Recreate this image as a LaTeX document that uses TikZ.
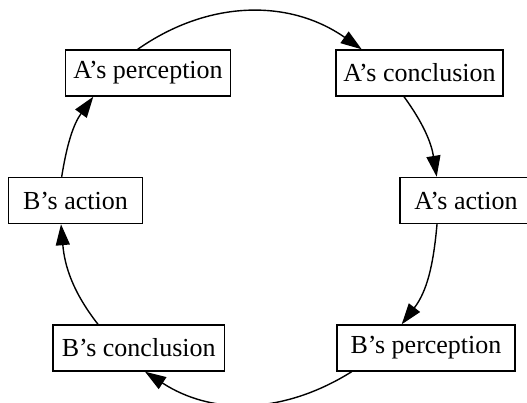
\documentclass[tikz,border=0pt]{standalone}
\usepackage{fontspec}
\setmainfont{Liberation Serif}
\usetikzlibrary{arrows.meta}
\begin{document}
\begin{tikzpicture}[x=1pt,y=1pt,
  state/.style={draw=black, line width=1.4pt, inner sep=0pt,
    minimum height=46pt, font=\fontsize{26pt}{30pt}\selectfont},
  flow/.style={line width=1.4pt, -{Triangle[length=21pt,width=14pt]}}]
\clip (0,0) rectangle (527,403);

% the six states of the loop
\node[state, minimum width=165pt]   (ap) at (148,330)   {A’s perception};
\node[state, minimum width=167pt]   (ac) at (419.5,330) {A’s conclusion};
\node[state, minimum width=132pt]   (aa) at (466,202.5) {A’s action};
\node[state, minimum width=178pt]   (bp) at (426,55)    {B’s perception};
\node[state, minimum width=171.7pt] (bc) at (138.7,55)  {B’s conclusion};
\node[state, minimum width=134pt]   (ba) at (75.5,202.5) {B’s action};

% arcs running clockwise round the loop
\draw[flow] ([xshift=-10.3pt]ap.north) to[out=35,in=145]   ([xshift=-57.8pt]ac.north);
\draw[flow] ([xshift=-15.5pt]ac.south) to[out=-54,in=99]   ([xshift=-29.3pt]aa.north);
\draw[flow] ([xshift=-29pt]aa.south)   to[out=-95,in=52.5] ([xshift=-24.3pt]bp.north);
\draw[flow] ([xshift=-74.3pt]bp.south) to[out=-148,in=-33] ([xshift=6.3pt]bc.south);
\draw[flow] ([xshift=-40.7pt]bc.north) to[out=128,in=-85]  ([xshift=-14.5pt]ba.south);
\draw[flow] ([xshift=-13.8pt]ba.north) to[out=81,in=234]   ([xshift=-54.7pt]ap.south);
\end{tikzpicture}
\end{document}
